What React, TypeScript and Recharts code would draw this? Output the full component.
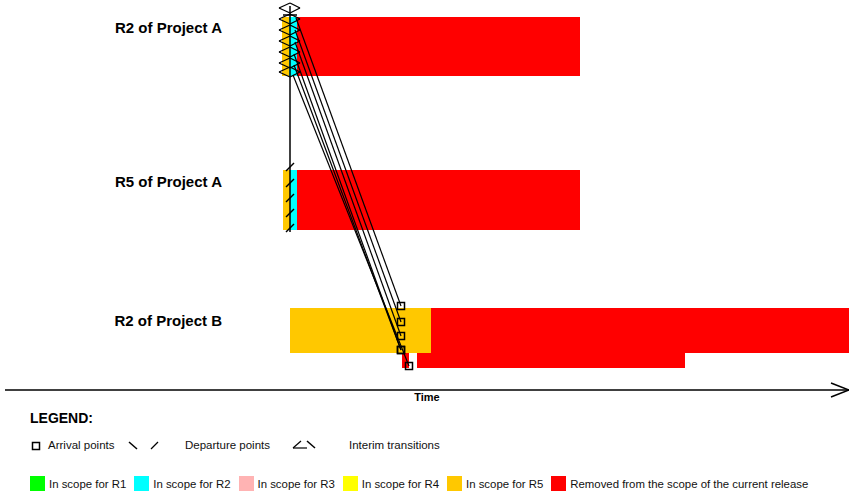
import { ComposedChart, ReferenceArea, ReferenceLine, Scatter, XAxis, YAxis } from 'recharts'

// timeline units run left to right, rows are stacked top to bottom
const rowLabels = [
  { name: 'R2 of Project A', x: 222, y: 27 },
  { name: 'R5 of Project A', x: 222, y: 181 },
  { name: 'R2 of Project B', x: 222, y: 320 },
]

const scopeNames = ['R1', 'R2', 'R3', 'R4', 'R5']

const scopeColors: Record<string, string> = {
  R1: '#00FF00',
  R2: '#00FFFF',
  R3: '#FFB3B3',
  R4: '#FFFF00',
  R5: '#FFC800',
  Removed: '#FF0000',
}

// scope spans of each release: scope, start, end, top, bottom
const spansProjectA_R2 = [
  { scope: 'R5', start: 282, end: 289, top: 17, bottom: 76 },
  { scope: 'R2', start: 289, end: 297, top: 17, bottom: 76 },
  { scope: 'Removed', start: 297, end: 580, top: 17, bottom: 76 },
]

const spansProjectA_R5 = [
  { scope: 'R5', start: 283, end: 290, top: 170, bottom: 230 },
  { scope: 'R2', start: 290, end: 297, top: 170, bottom: 230 },
  { scope: 'Removed', start: 297, end: 580, top: 170, bottom: 230 },
]

const spansProjectB_R2 = [
  { scope: 'R5', start: 290, end: 431, top: 308, bottom: 353 },
  { scope: 'Removed', start: 431, end: 849, top: 308, bottom: 353 },
  { scope: 'Removed', start: 402, end: 409, top: 353, bottom: 368 },
  { scope: 'Removed', start: 417, end: 685, top: 353, bottom: 368 },
]

// transitions from R2 of Project A to R2 of Project B
const departures = [
  { x: 296, y: 18 },
  { x: 295, y: 30 },
  { x: 295, y: 42 },
  { x: 294, y: 54 },
  { x: 294, y: 65 },
  { x: 293, y: 75 },
]

const arrivals = [
  { x: 401, y: 306 },
  { x: 401, y: 322 },
  { x: 401, y: 336 },
  { x: 401, y: 350 },
  { x: 401, y: 350 },
  { x: 409, y: 366 },
]

// interim transitions between R2 and R5 of Project A
const interimLink = { x: 290, from: 6, to: 232 }
const interimMarks = [8, 19, 30, 41, 52, 63, 72]
const departureMarksR5 = [167, 183, 198, 213, 228]

const allSpans = [...spansProjectA_R2, ...spansProjectA_R5, ...spansProjectB_R2]

const font = '"Liberation Sans", Arial, sans-serif'

function Square({ cx, cy }: { cx?: number; cy?: number }) {
  if (cx == null || cy == null) return null
  return <rect x={cx - 3.5} y={cy - 3.5} width={7} height={7} fill="none" stroke="#000" strokeWidth={1.5} />
}

function RowLabel(props: any) {
  const { cx, cy, payload } = props
  return (
    <text x={cx} y={cy} textAnchor="end" dominantBaseline="central" fontFamily={font} fontWeight="bold" fontSize={15} fill="#000">
      {payload.name}
    </text>
  )
}

function seg(x1: number, y1: number, x2: number, y2: number, key: string, width = 1) {
  return (
    <ReferenceLine
      key={key}
      segment={[{ x: x1, y: y1 }, { x: x2, y: y2 }]}
      stroke="#000"
      strokeWidth={width}
      ifOverflow="visible"
    />
  )
}

export default function App() {
  return (
    <div style={{ position: 'absolute', left: 0, top: 0, width: 849, height: 493, background: '#fff', fontFamily: font }}>
      <ComposedChart width={849} height={410} margin={{ top: 0, right: 0, bottom: 0, left: 5 }}>
        <XAxis
          type="number"
          dataKey="x"
          domain={[5, 849]}
          allowDataOverflow
          tick={false}
          tickLine={false}
          height={20}
          axisLine={{ stroke: '#000', strokeWidth: 1.5 }}
          label={{ value: 'Time', position: 'insideTop', offset: 3, fontSize: 11, fontWeight: 'bold', fill: '#000', fontFamily: font }}
        />
        <YAxis type="number" dataKey="y" domain={[0, 390]} reversed hide allowDataOverflow />

        {allSpans.map((s, i) => (
          <ReferenceArea
            key={`span-${i}`}
            x1={s.start}
            x2={s.end}
            y1={s.top}
            y2={s.bottom}
            fill={scopeColors[s.scope]}
            fillOpacity={1}
            stroke="none"
            ifOverflow="visible"
          />
        ))}

        {seg(interimLink.x, interimLink.from, interimLink.x, interimLink.to, 'link', 1.5)}
        {interimMarks.map((y, i) => [
          seg(interimLink.x, y - 5, interimLink.x - 11, y, `il-a-${i}`, 1.3),
          seg(interimLink.x - 11, y, interimLink.x, y + 5, `il-b-${i}`, 1.3),
          seg(interimLink.x, y - 5, interimLink.x + 10, y, `ir-a-${i}`, 1.3),
          seg(interimLink.x + 10, y, interimLink.x, y + 5, `ir-b-${i}`, 1.3),
        ])}
        {seg(283, 15, 297, 15, 'top-bar', 1.5)}
        {departureMarksR5.map((y, i) => seg(interimLink.x - 4, y + 4, interimLink.x + 4, y - 4, `dep-${i}`, 1.5))}

        {departures.map((d, i) => seg(d.x, d.y, arrivals[i].x, arrivals[i].y, `tr-${i}`, 1.2))}

        {seg(831, 383, 849, 390, 'arrow-a', 1.5)}
        {seg(849, 390, 831, 397, 'arrow-b', 1.5)}

        <Scatter data={arrivals} shape={<Square />} isAnimationActive={false} />
        <Scatter data={rowLabels} shape={RowLabel} isAnimationActive={false} />
      </ComposedChart>

      <div style={{ position: 'absolute', left: 30, top: 410, fontSize: 14, fontWeight: 'bold', color: '#000' }}>LEGEND:</div>

      <svg style={{ position: 'absolute', left: 0, top: 436 }} width={330} height={20}>
        <rect x={32.5} y={6.5} width={7} height={7} fill="none" stroke="#000" strokeWidth={1.5} />
        <line x1={129} y1={6} x2={137} y2={13} stroke="#000" strokeWidth={1.5} />
        <line x1={151} y1={13} x2={158} y2={6} stroke="#000" strokeWidth={1.2} />
        <line x1={293} y1={12} x2={301} y2={5} stroke="#000" strokeWidth={1.2} />
        <line x1={293} y1={12} x2={307} y2={12} stroke="#000" strokeWidth={1.2} />
        <line x1={307} y1={5} x2={315} y2={12} stroke="#000" strokeWidth={1.5} />
      </svg>
      <div style={{ position: 'absolute', left: 48, top: 439, fontSize: 11.5, color: '#111' }}>Arrival points</div>
      <div style={{ position: 'absolute', left: 185, top: 439, fontSize: 11.5, color: '#111' }}>Departure points</div>
      <div style={{ position: 'absolute', left: 349, top: 439, fontSize: 11.5, color: '#111' }}>Interim transitions</div>

      <div style={{ position: 'absolute', left: 30, top: 476, display: 'flex', alignItems: 'center', fontSize: 11.4, color: '#111' }}>
        {[...scopeNames, 'Removed'].map((name) => (
          <div key={name} style={{ display: 'flex', alignItems: 'center', marginRight: 8 }}>
            <span style={{ width: 15, height: 15, background: scopeColors[name], marginRight: 4, display: 'inline-block' }} />
            <span>{name === 'Removed' ? 'Removed from the scope of the current release' : `In scope for ${name}`}</span>
          </div>
        ))}
      </div>
    </div>
  )
}
